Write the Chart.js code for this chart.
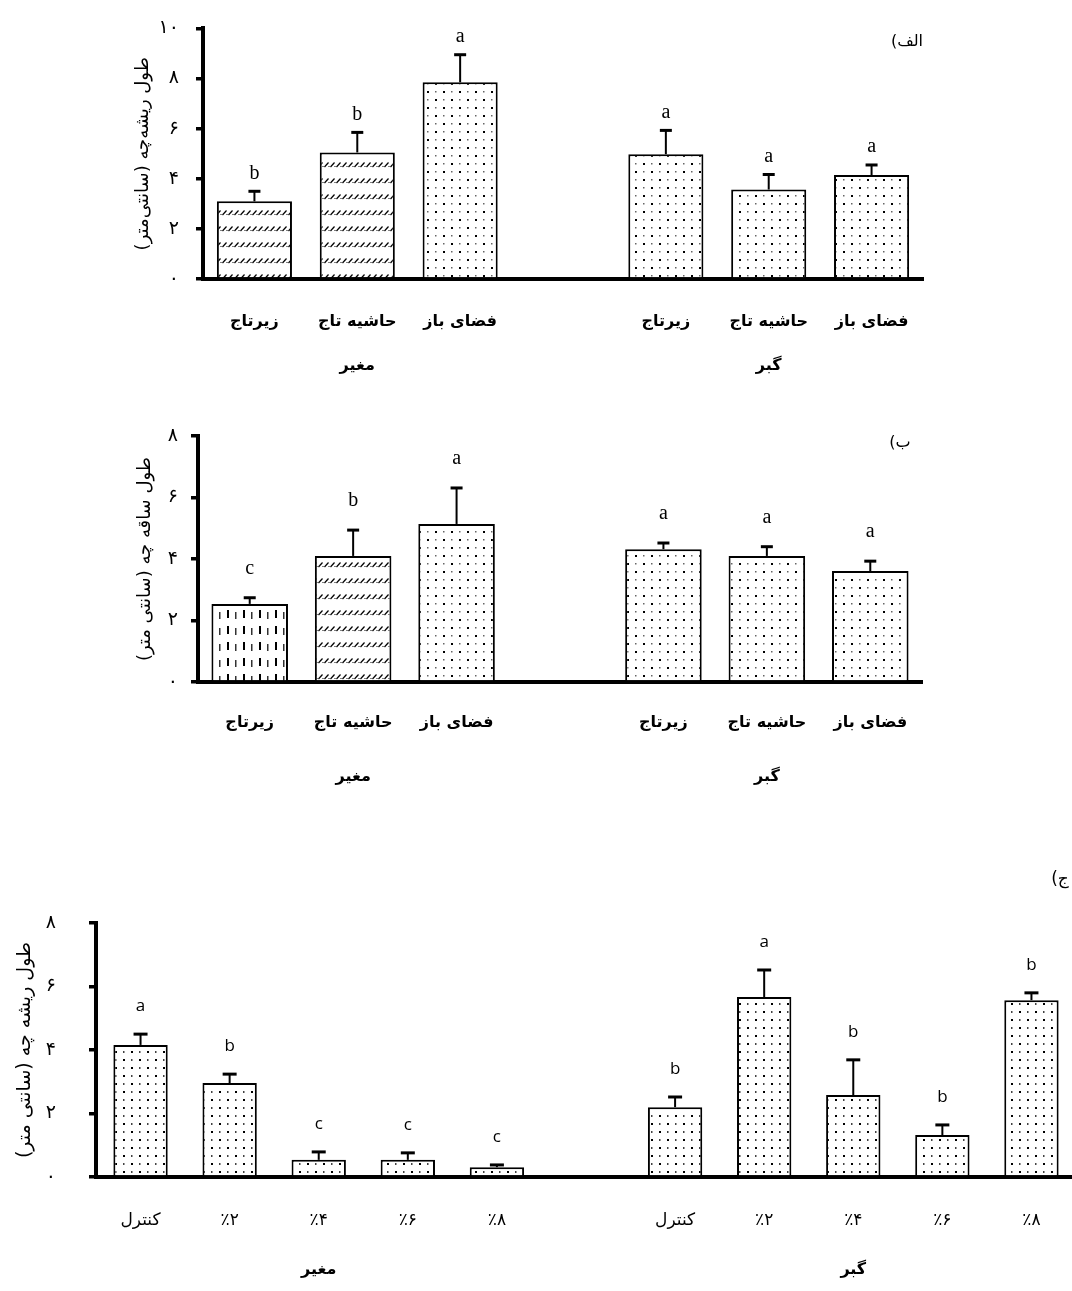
<!DOCTYPE html>
<html><head><meta charset="utf-8">
<script src="https://cdn.jsdelivr.net/npm/chart.js@4.4.1/dist/chart.umd.min.js"></script>
<style>
html,body{margin:0;padding:0;background:#fff;}
body{width:1072px;height:1291px;position:relative;overflow:hidden;}
canvas{position:absolute;left:0;}
</style></head>
<body>
<canvas id="cA" dir="rtl" width="1072" height="400" style="top:0px"></canvas>
<canvas id="cB" dir="rtl" width="1072" height="420" style="top:400px"></canvas>
<canvas id="cC" dir="rtl" width="1080" height="451" style="top:840px"></canvas>
<script>
// ---------- data ----------
const groups = ['مغیر', 'گبر'];
const sitesA = ['زیرتاج', 'حاشیه تاج', 'فضای باز', '', 'زیرتاج', 'حاشیه تاج', 'فضای باز'];
const rootLenA = [3.1, 5.05, 7.85, null, 4.98, 3.57, 4.15];
const rootErrA = [0.4, 0.8, 1.1, null, 0.95, 0.6, 0.4];
const rootSigA = ['b', 'b', 'a', '', 'a', 'a', 'a'];

const sitesB = ['زیرتاج', 'حاشیه تاج', 'فضای باز', '', 'زیرتاج', 'حاشیه تاج', 'فضای باز'];
const shootLenB = [2.54, 4.1, 5.14, null, 4.32, 4.1, 3.61];
const shootErrB = [0.2, 0.84, 1.17, null, 0.2, 0.3, 0.32];
const shootSigB = ['c', 'b', 'a', '', 'a', 'a', 'a'];

const concC = ['کنترل', '٪۲', '٪۴', '٪۶', '٪۸', '', 'کنترل', '٪۲', '٪۴', '٪۶', '٪۸'];
const rootLenC = [4.16, 2.96, 0.54, 0.54, 0.31, null, 2.2, 5.67, 2.58, 1.32, 5.57];
const rootErrC = [0.34, 0.28, 0.25, 0.22, 0.07, null, 0.32, 0.85, 1.11, 0.32, 0.23];
const rootSigC = ['a', 'b', 'c', 'c', 'c', '', 'b', 'a', 'b', 'b', 'b'];

const yTicksA = ['۰', '۲', '۴', '۶', '۸', '۱۰'];
const yTicksB = ['۰', '۲', '۴', '۶', '۸'];
const yTicksC = ['۰', '۲', '۴', '۶', '۸'];
const yTitleA = 'طول ریشه‌چه (سانتی‌متر)';
const yTitleB = 'طول ساقه چه (سانتی متر)';
const yTitleC = 'طول ریشه چه (سانتی متر)';
const panelTags = ['الف)', 'ب)', 'ج)'];

// ---------- patterns ----------
const FA = "'DejaVu Sans', sans-serif";
function tile(w, h, draw) {
  const c = document.createElement('canvas'); c.width = w; c.height = h;
  const g = c.getContext('2d'); g.fillStyle = '#fff'; g.fillRect(0, 0, w, h); draw(g);
  return c;
}
const tctx = document.createElement('canvas').getContext('2d');
const pat = {
  dots: tctx.createPattern(tile(16, 16, g => {
    g.fillStyle = '#000'; g.fillRect(3, 3, 2, 2); g.fillRect(11, 11, 2, 2);
    g.fillStyle = '#666'; g.fillRect(11, 3, 1.5, 1.5); g.fillRect(3, 11, 1.5, 1.5);
  }), 'repeat'),
  dense: tctx.createPattern(tile(16, 16, g => {
    g.fillStyle = '#000'; g.fillRect(3, 3, 2, 2); g.fillRect(11, 11, 2, 2);
    g.fillStyle = '#444'; g.fillRect(11, 3, 1.5, 2); g.fillRect(3, 11, 1.5, 2);
  }), 'repeat'),
  slash: tctx.createPattern(tile(6, 16, g => {
    g.strokeStyle = '#000'; g.lineWidth = 1.2;
    g.beginPath(); g.moveTo(0.5, 7); g.lineTo(4.5, 2.5); g.stroke();
    g.fillStyle = '#000'; g.fillRect(4.5, 6, 1, 1);
  }), 'repeat'),
  vdash: tctx.createPattern(tile(16, 16, g => {
    g.fillStyle = '#000'; g.fillRect(3, 2, 2, 8);
    g.fillStyle = '#333'; g.fillRect(11, 4, 1.5, 7);
  }), 'repeat')
};
const fillsA = [pat.slash, pat.slash, pat.dots, null, pat.dots, pat.dots, pat.dots];
const fillsB = [pat.vdash, pat.slash, pat.dots, null, pat.dots, pat.dots, pat.dots];
const fillsC = concC.map(() => pat.dense);

// ---------- annotation plugin ----------
function annot(cfg) {
  return {
    id: 'annot' + cfg.id,
    afterDatasetsDraw(chart) {
      const ctx = chart.ctx, ys = chart.scales.y, xs = chart.scales.x, ca = chart.chartArea;
      const meta = chart.getDatasetMeta(0);
      ctx.save();
      ctx.strokeStyle = '#000'; ctx.fillStyle = '#000';
      meta.data.forEach((bar, i) => {
        const v = cfg.values[i]; if (v == null) return;
        const y0 = ys.getPixelForValue(v), y1 = ys.getPixelForValue(v + cfg.err[i]);
        ctx.lineWidth = 2; ctx.beginPath(); ctx.moveTo(bar.x, y0); ctx.lineTo(bar.x, y1); ctx.stroke();
        ctx.lineWidth = 3; ctx.beginPath(); ctx.moveTo(bar.x - cfg.cap, y1); ctx.lineTo(bar.x + cfg.cap, y1); ctx.stroke();
        ctx.font = cfg.sigFont; ctx.textAlign = 'center'; ctx.textBaseline = 'middle';
        ctx.fillText(cfg.sig[i], bar.x, y1 - cfg.sigGap);
      });
      // group labels: centred on each run of categories separated by the blank slot
      let runs = [], cur = [];
      cfg.labels.forEach((l, i) => { if (l === '') { if (cur.length) runs.push(cur); cur = []; } else cur.push(i); });
      if (cur.length) runs.push(cur);
      ctx.direction = 'rtl';
      ctx.font = cfg.groupFont; ctx.textAlign = 'center'; ctx.textBaseline = 'middle';
      runs.forEach((r, g) => {
        const gx = (xs.getPixelForValue(r[0]) + xs.getPixelForValue(r[r.length - 1])) / 2;
        ctx.fillText(groups[g], gx, ca.bottom + cfg.groupGap);
      });
      // panel tag
      ctx.font = cfg.tagFont; ctx.textAlign = 'center';
      ctx.fillText(cfg.tag, ca.right + cfg.tagDx, ca.top + cfg.tagDy);
      ctx.restore();
    }
  };
}

function panel(cfg) {
  const canvas = document.getElementById(cfg.id);
  const W = canvas.width, H = canvas.height, A = cfg.area;
  return new Chart(canvas, {
    type: 'bar',
    data: { labels: cfg.labels, datasets: [{
      data: cfg.values, backgroundColor: cfg.fills, borderColor: '#000', borderWidth: 2,
      borderSkipped: 'bottom', categoryPercentage: 1, barPercentage: cfg.barPct
    }]},
    options: {
      responsive: false, animation: false, devicePixelRatio: 1,
      layout: { padding: { left: 0, top: A.top, right: W - A.right, bottom: 0 } },
      plugins: { legend: { display: false }, tooltip: { enabled: false } },
      scales: {
        x: {
          grid: { display: false, drawTicks: false, tickLength: 0 },
          border: { display: true, color: '#000', width: 4 },
          ticks: { color: '#000', font: { family: FA, size: cfg.xFont, weight: cfg.xWeight }, padding: cfg.xPad, maxRotation: 0, autoSkip: false },
          afterFit: s => { s.height = H - A.bottom; }
        },
        y: {
          min: 0, max: cfg.max,
          grid: { display: true, drawOnChartArea: false, drawTicks: true, tickLength: 7, lineWidth: 3.5, color: '#000' },
          border: { display: true, color: '#000', width: 4 },
          ticks: { stepSize: 2, color: '#000', padding: cfg.yPad, font: { family: FA, size: 19 },
                   callback: v => cfg.yTicks[Math.round(v / 2)] },
          title: { display: true, text: cfg.title, color: '#000', font: { family: FA, size: cfg.titleSize },
                   padding: { top: cfg.titleX - cfg.titleSize * 0.6, bottom: 0 } },
          afterFit: s => { s.width = A.left; }
        }
      }
    },
    plugins: [annot(cfg)]
  });
}

panel({ id: 'cA', labels: sitesA, values: rootLenA, err: rootErrA, sig: rootSigA, fills: fillsA,
  yTicks: yTicksA, title: yTitleA, max: 10, area: { left: 203, right: 923, top: 24, bottom: 279 },
  barPct: 0.73, xFont: 16, xWeight: 'bold', xPad: 33, yPad: 17, titleX: 143, titleSize: 18, cap: 6,
  sigFont: "20px 'Liberation Serif', serif", sigGap: 18, groupFont: "bold 16px " + FA, groupGap: 87,
  tag: panelTags[0], tagFont: "16px " + FA, tagDx: -16, tagDy: 13 });

panel({ id: 'cB', labels: sitesB, values: shootLenB, err: shootErrB, sig: shootSigB, fills: fillsB,
  yTicks: yTicksB, title: yTitleB, max: 8, area: { left: 198, right: 922, top: 36, bottom: 282 },
  barPct: 0.74, xFont: 16, xWeight: 'bold', xPad: 31, yPad: 13, titleX: 145, titleSize: 18, cap: 6,
  sigFont: "20px 'Liberation Serif', serif", sigGap: 29, groupFont: "bold 16px " + FA, groupGap: 95,
  tag: panelTags[1], tagFont: "16px " + FA, tagDx: -22, tagDy: 7 });

panel({ id: 'cC', labels: concC, values: rootLenC, err: rootErrC, sig: rootSigC, fills: fillsC,
  yTicks: yTicksC, title: yTitleC, max: 8, area: { left: 96, right: 1076, top: 83, bottom: 337 },
  barPct: 0.61, xFont: 17, xWeight: 'normal', xPad: 33, yPad: 33, titleX: 25, titleSize: 19, cap: 7,
  sigFont: "17px 'Open Sans', sans-serif", sigGap: 28, groupFont: "bold 16px " + FA, groupGap: 93,
  tag: panelTags[2], tagFont: "17px " + FA, tagDx: -16, tagDy: -43 });
</script>
</body></html>
